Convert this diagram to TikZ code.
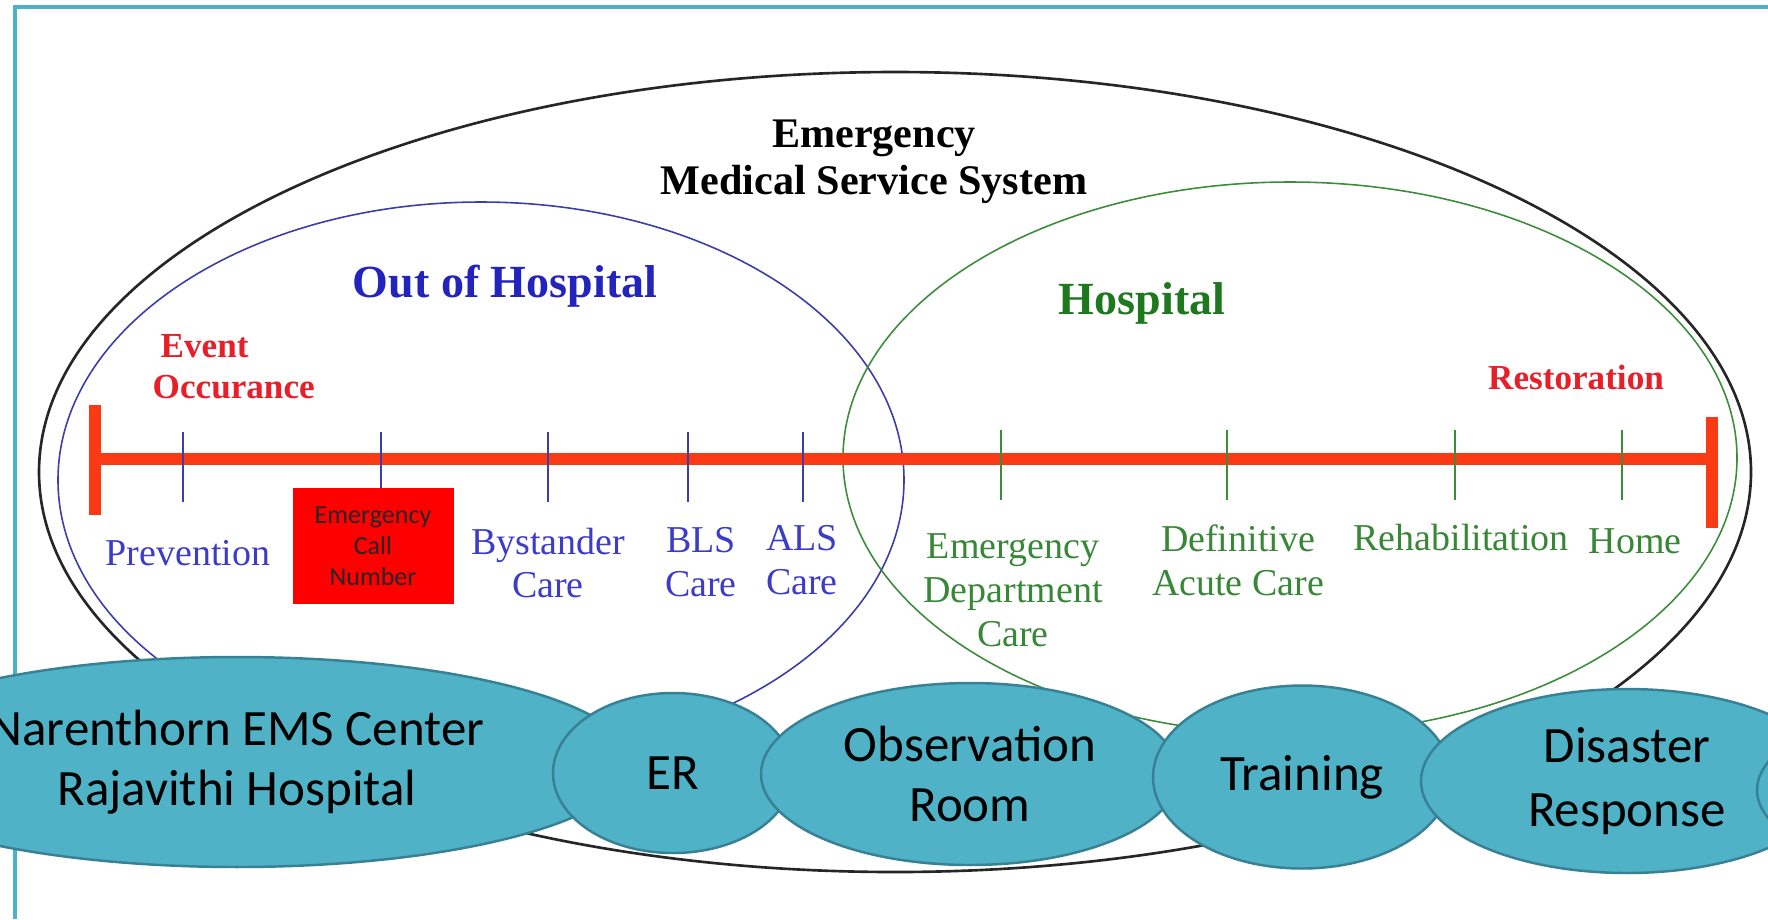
\documentclass[tikz,border=0pt]{standalone}
\usepackage{fontspec}
\setmainfont{Liberation Serif}
\newfontfamily\bubblefont{Carlito}
\usepackage{tikz}
\usetikzlibrary{shapes.geometric}

\definecolor{frameteal}{RGB}{75,179,201}
\definecolor{bubblefill}{RGB}{79,178,198}
\definecolor{bubbleline}{RGB}{56,128,148}
\definecolor{lineorange}{RGB}{250,58,18}
\definecolor{outblue}{RGB}{35,35,190}
\definecolor{labelblue}{RGB}{60,60,200}
\definecolor{ringblue}{RGB}{60,60,170}
\definecolor{hospgreen}{RGB}{30,120,30}
\definecolor{labelgreen}{RGB}{55,135,55}
\definecolor{ringgreen}{RGB}{60,140,60}
\definecolor{eventred}{RGB}{232,30,40}

\begin{document}
\begin{tikzpicture}[
x=0.1mm, y=-0.1mm,
frame-line/.style = {draw=frameteal, line width=1.4pt},
timeline/.style = {draw=lineorange, line width=3.3pt},
tick-blue/.style = {draw=ringblue, line width=0.55pt},
tick-green/.style = {draw=ringgreen, line width=0.55pt},
head-label/.style = {inner sep=0pt, align=center, font=\bfseries\fontsize{13.1}{15}\selectfont},
mark-label/.style = {inner sep=0pt, text=eventred, font=\bfseries\fontsize{10}{11.7}\selectfont},
step-label/.style = {inner sep=0pt, align=center, font=\fontsize{10.8}{12.5}\selectfont},
call-box/.style = {rectangle, fill=red, inner sep=0pt, minimum width=16.1mm, minimum height=11.6mm, align=center, text=black!85, font=\bubblefont\fontsize{7.4}{8.8}\selectfont},
bubble-node/.style = {ellipse, draw=bubbleline, line width=0.7pt, fill=bubblefill, inner sep=0pt, align=center, font=\bubblefont\fontsize{14.5}{17}\selectfont}
]

\useasboundingbox (0,0) rectangle (1768,919);

% frame
\draw[frame-line] (15,919) -- (15,7) -- (1768,7);

% rings
\draw[black!85, line width=0.75pt] (895,472) ellipse [x radius=85.6mm, y radius=40mm];
\draw[ringblue, line width=0.45pt] (481,480) ellipse [x radius=42.3mm, y radius=27.8mm];
\draw[ringgreen, line width=0.45pt] (1290,458) ellipse [x radius=44.7mm, y radius=27.6mm];

% titles
\node [head-label, font=\bfseries\fontsize{12}{13.4}\selectfont] (title) at (874,162) {Emergency\\Medical Service System};
\node [head-label, text=outblue] (out-hosp) at (505,286) {Out of Hospital};
\node [head-label, text=hospgreen] (hosp) at (1142,303) {Hospital};
\node [mark-label, align=left, anchor=west] (event) at (152,367) {\hspace*{0.8mm}Event\\Occurance};
\node [mark-label] (restoration) at (1576,377) {Restoration};

% timeline
\coordinate (tl-start) at (95,459);
\coordinate (tl-end) at (1712,459);
\draw[timeline] (tl-start) -- (tl-end);
\draw[timeline] (95,405) -- (95,515);
\draw[timeline] (1712,417) -- (1712,528);
\foreach \x in {183,381,548,688,803}
  \draw[tick-blue] (\x,432) -- (\x,502);
\foreach \x in {1001,1227,1455,1622}
  \draw[tick-green] (\x,430) -- (\x,500);

% steps
\node [step-label, text=labelblue] (prevention) at (188,553) {Prevention};
\node [call-box] (call-number) at (373,546) {Emergency\\Call\\Number};
\node [step-label, text=labelblue] (bystander) at (548,563) {Bystander\\Care};
\node [step-label, text=labelblue] (bls) at (701,562) {BLS\\Care};
\node [step-label, text=labelblue] (als) at (802,560) {ALS\\Care};
\node [step-label, text=labelgreen] (ed-care) at (1013,590) {Emergency\\Department\\Care};
\node [step-label, text=labelgreen] (acute-care) at (1238,560) {Definitive\\Acute Care};
\node [step-label, text=labelgreen] (rehab) at (1461,537) {Rehabilitation};
\node [step-label, text=labelgreen] (home) at (1635,541) {Home};

% bubbles
\node [bubble-node, minimum width=79mm, minimum height=21mm] (ems-center) at (237,762) {Narenthorn EMS Center\\Rajavithi Hospital};
\node [bubble-node, minimum width=24mm, minimum height=16mm] (er) at (673,773) {ER};
\node [bubble-node, minimum width=41.8mm, minimum height=18.2mm] (observation) at (970,774) {Observation\\Room};
\node [bubble-node, minimum width=29.8mm, minimum height=18.3mm] (training) at (1302,777) {\raisebox{-1.5mm}{Training}};
\node [bubble-node, minimum width=41.2mm, minimum height=18.4mm, font=\bubblefont\fontsize{14.5}{18}\selectfont] (disaster) at (1627,781) {Disaster\\Response};
\node [bubble-node, minimum width=40mm, minimum height=17mm] (next-bubble) at (1957,790) {};

\end{tikzpicture}
\end{document}
